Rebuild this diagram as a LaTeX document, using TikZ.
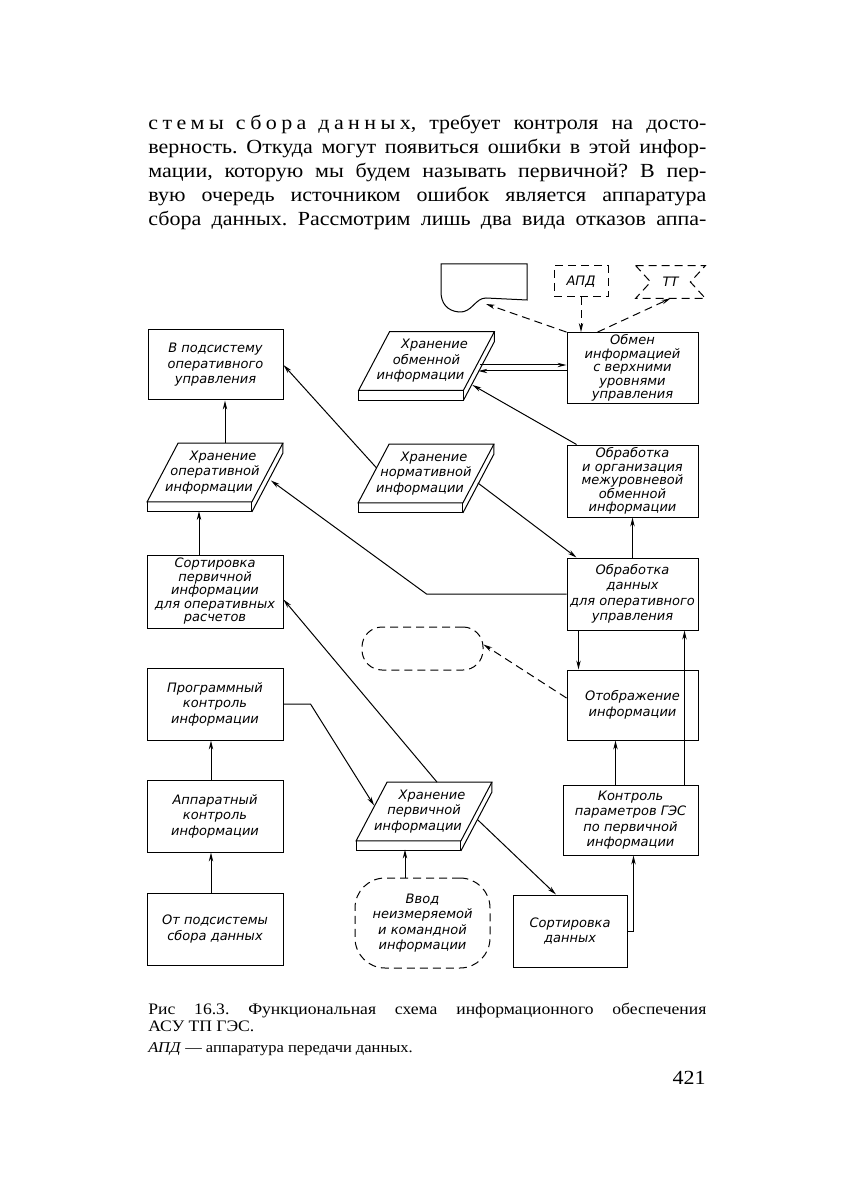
\documentclass[tikz,border=0pt]{standalone}
\usepackage{fontspec}
\setmainfont{Liberation Serif}[FakeStretch=1.1]
\newfontfamily\lblfamily{DejaVu Sans}
\usetikzlibrary{arrows.meta}
\frenchspacing
\newcommand\lbl{\lblfamily\itshape\fontsize{6.5}{7.75}\selectfont}
\newcommand\lbltight{\lblfamily\itshape\fontsize{6.5}{6.75}\selectfont}
\newcommand\razr[1]{{\addfontfeature{LetterSpace=22}#1}}
\newcommand\slabtext[3]{\hspace*{8pt}#1\\#2\\#3\hspace*{6pt}}

\begin{document}
\begin{tikzpicture}[x=0.5pt,y=-0.5pt,
		box/.style={draw,line width=0.5pt,inner sep=1pt,align=center,font=\lbl},
		slabnode/.style={inner sep=0pt,align=center,font=\lbl,minimum width=67.5pt,minimum height=29pt},
		arr/.style={line width=0.5pt,-{Stealth[length=4.5pt,width=2.2pt]}},
		dsh/.style={dash pattern=on 4pt off 2.5pt}]
	\useasboundingbox (0,0) rectangle (856,1197);
	% text of the page
	\node[anchor=north west,inner sep=0pt,align=left,font=\fontsize{10}{12}\selectfont] (txt) at (148,115) {%
		\makebox[279pt][s]{\razr{стемы}\hspace{6pt}\razr{сбора}\hspace{6pt}\razr{данных}, требует контроля на досто-}\\
		\makebox[279pt][s]{верность. Откуда могут появиться ошибки в этой инфор-}\\
		\makebox[279pt][s]{мации, которую мы будем называть первичной? В пер-}\\
		\makebox[279pt][s]{вую очередь источником ошибок является аппаратура}\\
		\makebox[279pt][s]{сбора данных. Рассмотрим лишь два вида отказов аппа-}};
	% top row
	\draw[line width=0.5pt] (441,292) -- (441,264) -- (527,264) -- (527,300) -- (486,298) .. controls (475,298) and (472,313) .. (459,312) .. controls (447,311) and (441,303) .. (441,292);
	\coordinate (docend) at (486,304);
	\node[box,dsh,minimum width=27pt,minimum height=15.5pt] (apd) at (581,281.5) {АПД};
	\node[minimum width=34.5pt,minimum height=16pt,inner sep=0pt,font=\lbl] (tt) at (670.5,282) {ТТ};
	\draw[line width=0.5pt,dsh] (tt.north west) -- (tt.north east) -- ([xshift=-7.5pt]tt.east) -- (tt.south east) -- (tt.south west) -- ([xshift=7.5pt]tt.west) -- cycle;
	% boxes
	\node[box,minimum width=67.5pt,minimum height=35pt] (podsys) at (215.5,365) {В подсистему\\оперативного\\управления};
	\node[box,font=\lbltight,minimum width=65.5pt,minimum height=35pt] (obmen) at (632.5,368) {Обмен\\информацией\\с верхними\\уровнями\\управления};
	\node[box,font=\lbltight,minimum width=65.5pt,minimum height=36pt] (obrorg) at (632.5,481) {Обработка\\и организация\\межуровневой\\обменной\\информации};
	\node[box,minimum width=65.5pt,minimum height=36pt] (obrdan) at (632.5,594) {Обработка\\данных\\для оперативного\\управления};
	\node[box,font=\lbltight,minimum width=68pt,minimum height=36.5pt] (sortperv) at (215,591.5) {Сортировка\\первичной\\информации\\для оперативных\\расчетов};
	\node[box,minimum width=68pt,minimum height=36pt] (progr) at (215,704) {Программный\\контроль\\информации};
	\node[box,minimum width=65.5pt,minimum height=35pt] (otobr) at (632.5,705) {Отображение\\информации};
	\node[box,minimum width=68pt,minimum height=36pt] (appar) at (215,816) {Аппаратный\\контроль\\информации};
	\node[box,minimum width=67.5pt,minimum height=35pt] (kontr) at (630.5,820) {Контроль\\параметров ГЭС\\по первичной\\информации};
	\node[box,minimum width=68pt,minimum height=36pt] (otpods) at (215,929) {От подсистемы\\сбора данных};
	\node[box,minimum width=57pt,minimum height=36pt] (sortdan) at (570,931) {Сортировка\\данных};
	\node[box,dsh,rounded corners=15pt,minimum width=67.5pt,minimum height=45pt] (vvod) at (422.5,923) {Ввод\\неизмеряемой\\и командной\\информации};
	\node[box,dsh,rounded corners=10pt,minimum width=60.5pt,minimum height=21.5pt] (disp) at (422.5,648.5) {};
	% storage slabs
	\node[slabnode] (obmhr) at (426.5,361) {\slabtext{Хранение}{обменной}{информации}};
	\node[slabnode] (operhr) at (215,472.5) {\slabtext{Хранение}{оперативной}{информации}};
	\node[slabnode] (normhr) at (426,473.5) {\slabtext{Хранение}{нормативной}{информации}};
	\node[slabnode] (pervhr) at (424,811.5) {\slabtext{Хранение}{первичной}{информации}};
	\foreach \s in {obmhr,operhr,normhr,pervhr}{
		\draw[line width=0.5pt] (\s.south west) -- ([xshift=15.5pt]\s.north west) -- (\s.north east) -- ([xshift=-15.5pt]\s.south east) -- cycle;
		\draw[line width=0.5pt] (\s.south west) -- ++(0,10) -| ([xshift=-15.5pt]\s.south east);
		\draw[line width=0.5pt] (\s.north east) -- ++(0,10) -- ([xshift=-15.5pt,yshift=-5pt]\s.south east);
	}
	% connectors
	\coordinate (c1) at ([xshift=5pt]operhr.north);
	\coordinate (c2) at ([xshift=-8pt]sortperv.north);
	\coordinate (c3) at ([xshift=-7.5pt]kontr.north);
	\coordinate (c4) at ([xshift=27pt]kontr.north);
	\draw[arr,dsh] (apd.south) -- (apd.south |- obmen.north);
	\draw[arr,dsh] (obmen.north west) -- (docend);
	\draw[arr,dsh] ([xshift=15.5pt]obmen.north west) -- (tt.south);
	\draw[arr] ([xshift=-7pt,yshift=-2pt]obmhr.east) -- ([yshift=1.5pt]obmen.west);
	\draw[arr] ([yshift=-1.5pt]obmen.west) -- ([xshift=-8pt,yshift=-5pt]obmhr.east);
	\draw[arr] ([xshift=5pt]obrorg.north west) -- ([xshift=-11pt,yshift=-12pt]obmhr.east);
	\draw[arr] (obrdan.north) -- (obrorg.south);
	\draw[arr] ([xshift=-8pt,yshift=-4.75pt]normhr.east) -- ([xshift=5pt]obrdan.north west);
	\draw[arr] (obrdan.west) -- ++(-140,0) -- ([xshift=-6pt,yshift=-4pt]operhr.east);
	\draw[arr] ([xshift=9.25pt,yshift=2.75pt]normhr.west) -- (podsys.east);
	\draw[arr] (c1) -- (c1 |- podsys.south);
	\draw[arr] (c2) -- ++(0,-43.5);
	\draw[arr] ([xshift=6.5pt]pervhr.north) -- ([yshift=-4pt]sortperv.east);
	\draw[arr] (progr.east) -- ++(27,0) -- ([xshift=9pt,yshift=3pt]pervhr.west);
	\draw[arr] ([xshift=-2pt]appar.north) -- ([xshift=-2pt]progr.south);
	\draw[arr] ([xshift=-2pt]otpods.north) -- ([xshift=-2pt]appar.south);
	\draw[arr] ([xshift=-8.75pt]vvod.north) -- ++(0,-28);
	\draw[arr] ([xshift=-7pt,yshift=-4.25pt]pervhr.east) -- ([xshift=-7pt]sortdan.north);
	\draw[arr] (sortdan.east) -| ([xshift=1.5pt]kontr.south);
	\draw[arr] (c3) -- (c3 |- otobr.south);
	\draw[arr] (c4) -- (c4 |- obrdan.south);
	\draw[arr] ([xshift=-27pt]obrdan.south) -- ([xshift=-27pt]otobr.north);
	\draw[arr,dsh] ([yshift=3.5pt]otobr.west) -- ([yshift=2pt]disp.east);
	% caption
	\node[anchor=north west,inner sep=0pt,align=left,font=\fontsize{8}{8.5}\selectfont] (capt) at (148,1003) {%
		\makebox[279pt][s]{Рис 16.3. Функциональная схема информационного обеспечения}\\
		АСУ ТП ГЭС.};
	\node[anchor=north west,inner sep=0pt,font=\fontsize{7.5}{8}\selectfont] (note) at (148,1042) {\textit{АПД} — аппаратура передачи данных.};
	\node[anchor=base east,inner sep=0pt,font=\fontsize{10}{12}\selectfont] (pnum) at (706,1084) {421};
\end{tikzpicture}
\end{document}
